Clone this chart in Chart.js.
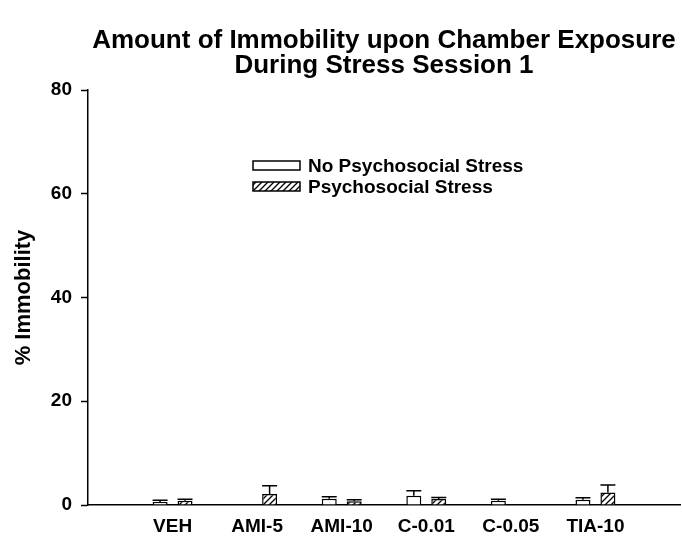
<!DOCTYPE html>
<html><head><meta charset="utf-8">
<script src="https://cdn.jsdelivr.net/npm/chart.js@4/dist/chart.umd.min.js"></script>
<style>html,body{margin:0;padding:0;background:#fff}</style>
</head><body>
<canvas id="c" width="682" height="538"></canvas>
<script>
const categories = ['VEH', 'AMI-5', 'AMI-10', 'C-0.01', 'C-0.05', 'TIA-10'];
const noStressMeans = [0.6, 0.1, 1.2, 1.8, 0.8, 1.0];
const noStressErr   = [0.3, 0.0, 0.4, 0.95, 0.3, 0.4];
const stressMeans   = [0.8, 2.1, 0.7, 1.15, 0.1, 2.4];
const stressErr     = [0.3, 1.6, 0.3, 0.3, 0.0, 1.45];
const yTickValues   = [0, 20, 40, 60, 80];
const titleLines    = ['Amount of Immobility upon Chamber Exposure', 'During Stress Session 1'];
const seriesNames   = ['No Psychosocial Stress', 'Psychosocial Stress'];
const yAxisTitle    = '% Immobility';

const FONT = 'Arial, "Liberation Sans", Helvetica, sans-serif';

function makeHatch(ctx) {
  const s = 6;
  const pc = document.createElement('canvas');
  pc.width = s; pc.height = s;
  const p = pc.getContext('2d');
  p.fillStyle = '#fff'; p.fillRect(0, 0, s, s);
  p.strokeStyle = '#000'; p.lineWidth = 1.3;
  p.beginPath();
  p.moveTo(0, s); p.lineTo(s, 0);
  p.moveTo(-1, 1); p.lineTo(1, -1);
  p.moveTo(s - 1, s + 1); p.lineTo(s + 1, s - 1);
  p.stroke();
  return ctx.createPattern(pc, 'repeat');
}

const canvas = document.getElementById('c');
const hatch = makeHatch(canvas.getContext('2d'));

const errorBars = {
  id: 'errorBars',
  afterDatasetsDraw(chart) {
    const ctx = chart.ctx;
    const ys = chart.scales.y;
    ctx.save();
    ctx.strokeStyle = '#000';
    ctx.lineWidth = 1.5;
    chart.data.datasets.forEach((ds, di) => {
      const meta = chart.getDatasetMeta(di);
      meta.data.forEach((el, i) => {
        const err = ds.errors[i];
        if (!err) return;
        const top = ys.getPixelForValue(ds.data[i].y + err);
        const half = el.width / 2;
        ctx.beginPath();
        ctx.moveTo(el.x, el.y);
        ctx.lineTo(el.x, top);
        ctx.moveTo(el.x - half, top);
        ctx.lineTo(el.x + half, top);
        ctx.stroke();
      });
    });
    ctx.restore();
  }
};

const titleAndLegend = {
  id: 'titleAndLegend',
  afterDraw(chart) {
    const ctx = chart.ctx;
    const ca = chart.chartArea;
    ctx.save();
    ctx.fillStyle = '#000';
    ctx.textAlign = 'center';
    ctx.textBaseline = 'middle';
    ctx.font = 'bold 26px ' + FONT;
    const cx = (ca.left + ca.right) / 2;
    ctx.fillText(titleLines[0], cx, 41);
    ctx.fillText(titleLines[1], cx, 66);

    // y axis title
    ctx.save();
    ctx.font = 'bold 22px ' + FONT;
    ctx.translate(24, (ca.top + ca.bottom) / 2);
    ctx.rotate(-Math.PI / 2);
    ctx.fillText(yAxisTitle, 0, 0);
    ctx.restore();

    // legend
    const bx = ca.left + 165, bw = 47, bh = 9;
    const rows = [161, 182];
    const fills = ['#fff', hatch];
    ctx.textAlign = 'left';
    ctx.font = 'bold 19px ' + FONT;
    rows.forEach((ry, k) => {
      ctx.fillStyle = fills[k];
      ctx.fillRect(bx, ry, bw, bh);
      ctx.strokeStyle = '#000';
      ctx.lineWidth = 1.5;
      ctx.strokeRect(bx, ry, bw, bh);
      ctx.fillStyle = '#000';
      ctx.fillText(seriesNames[k], bx + bw + 8, ry + bh / 2 + 1);
    });
    ctx.restore();
  }
};

new Chart(canvas, {
  type: 'bar',
  data: {
    datasets: [
      {
        label: seriesNames[0],
        data: noStressMeans.map((v, i) => ({ x: i, y: v })),
        errors: noStressErr,
        backgroundColor: '#fff',
        borderColor: '#000',
        borderWidth: 1.5
      },
      {
        label: seriesNames[1],
        data: stressMeans.map((v, i) => ({ x: i, y: v })),
        errors: stressErr,
        backgroundColor: hatch,
        borderColor: '#000',
        borderWidth: 1.5
      }
    ]
  },
  options: {
    responsive: false,
    animation: false,
    categoryPercentage: 0.59,
    barPercentage: 0.6,
    layout: { padding: { top: 90, right: 0, bottom: 0, left: 0 } },
    plugins: { legend: { display: false }, title: { display: false }, tooltip: { enabled: false } },
    scales: {
      x: {
        type: 'linear',
        min: -1,
        max: categories.length,
        offset: false,
        ticks: {
          stepSize: 1,
          autoSkip: false,
          maxRotation: 0,
          padding: 2,
          color: '#000',
          font: { family: FONT, size: 19, weight: 'bold' },
          callback: (v) => (categories[v] !== undefined ? categories[v] : '')
        },
        grid: { display: false },
        border: { display: true, color: '#000', width: 1.5 },
        afterFit: (s) => { s.height = 33; }
      },
      y: {
        min: yTickValues[0],
        max: yTickValues[yTickValues.length - 1],
        afterBuildTicks: (s) => { s.ticks = yTickValues.map(v => ({ value: v })); },
        ticks: {
          padding: 9,
          color: '#000',
          font: { family: FONT, size: 19, weight: 'bold' }
        },
        grid: { drawOnChartArea: false, drawTicks: true, tickLength: 7, tickColor: '#000', tickWidth: 1.5 },
        border: { display: true, color: '#000', width: 1.5 },
        title: { display: false },
        afterFit: (s) => { s.width = 88; }
      }
    }
  },
  plugins: [errorBars, titleAndLegend]
});
</script>
</body></html>
